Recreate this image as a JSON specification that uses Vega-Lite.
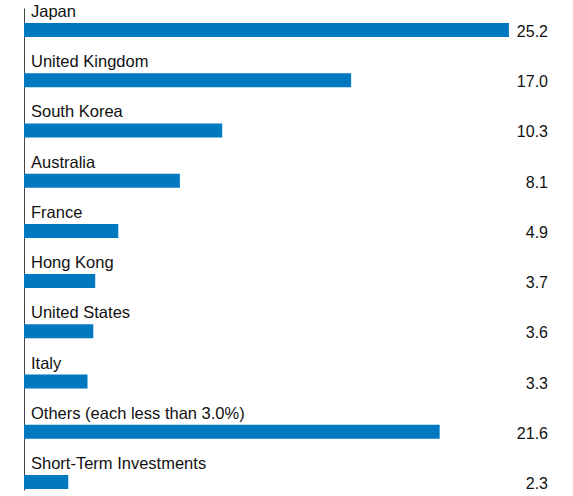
{
  "$schema": "https://vega.github.io/schema/vega-lite/v6.json",
  "width": 524,
  "height": 496,
  "autosize": "none",
  "padding": {"left": 24, "top": 0, "right": 25, "bottom": 0},
  "background": "white",
  "config": {"view": {"stroke": null}, "font": "Liberation Sans"},
  "data": {
    "values": [
      {"name": "Japan", "value": 25.2},
      {"name": "United Kingdom", "value": 17.0},
      {"name": "South Korea", "value": 10.3},
      {"name": "Australia", "value": 8.1},
      {"name": "France", "value": 4.9},
      {"name": "Hong Kong", "value": 3.7},
      {"name": "United States", "value": 3.6},
      {"name": "Italy", "value": 3.3},
      {"name": "Others (each less than 3.0%)", "value": 21.6},
      {"name": "Short-Term Investments", "value": 2.3}
    ]
  },
  "encoding": {
    "y": {
      "field": "name",
      "type": "nominal",
      "sort": null,
      "scale": {"range": [8, 490], "paddingInner": 0.4, "paddingOuter": 0},
      "axis": {"labels": false, "ticks": false, "title": null, "domainColor": "#444444", "domainWidth": 1}
    }
  },
  "layer": [
    {
      "mark": {"type": "bar", "color": "#0079c1", "height": 14, "yOffset": 7},
      "encoding": {
        "x": {"field": "value", "type": "quantitative", "scale": {"domain": [0, 27.23], "nice": false}, "axis": null}
      }
    },
    {
      "mark": {"type": "text", "align": "left", "baseline": "alphabetic", "dx": 7, "dy": -6, "fontSize": 16.5, "color": "#111111"},
      "encoding": {
        "x": {"datum": 0, "type": "quantitative"},
        "text": {"field": "name"}
      }
    },
    {
      "mark": {"type": "text", "align": "right", "baseline": "alphabetic", "dy": 14, "fontSize": 16, "color": "#111111"},
      "encoding": {
        "x": {"value": "width"},
        "text": {"field": "value", "type": "quantitative", "format": ".1f"}
      }
    }
  ]
}
